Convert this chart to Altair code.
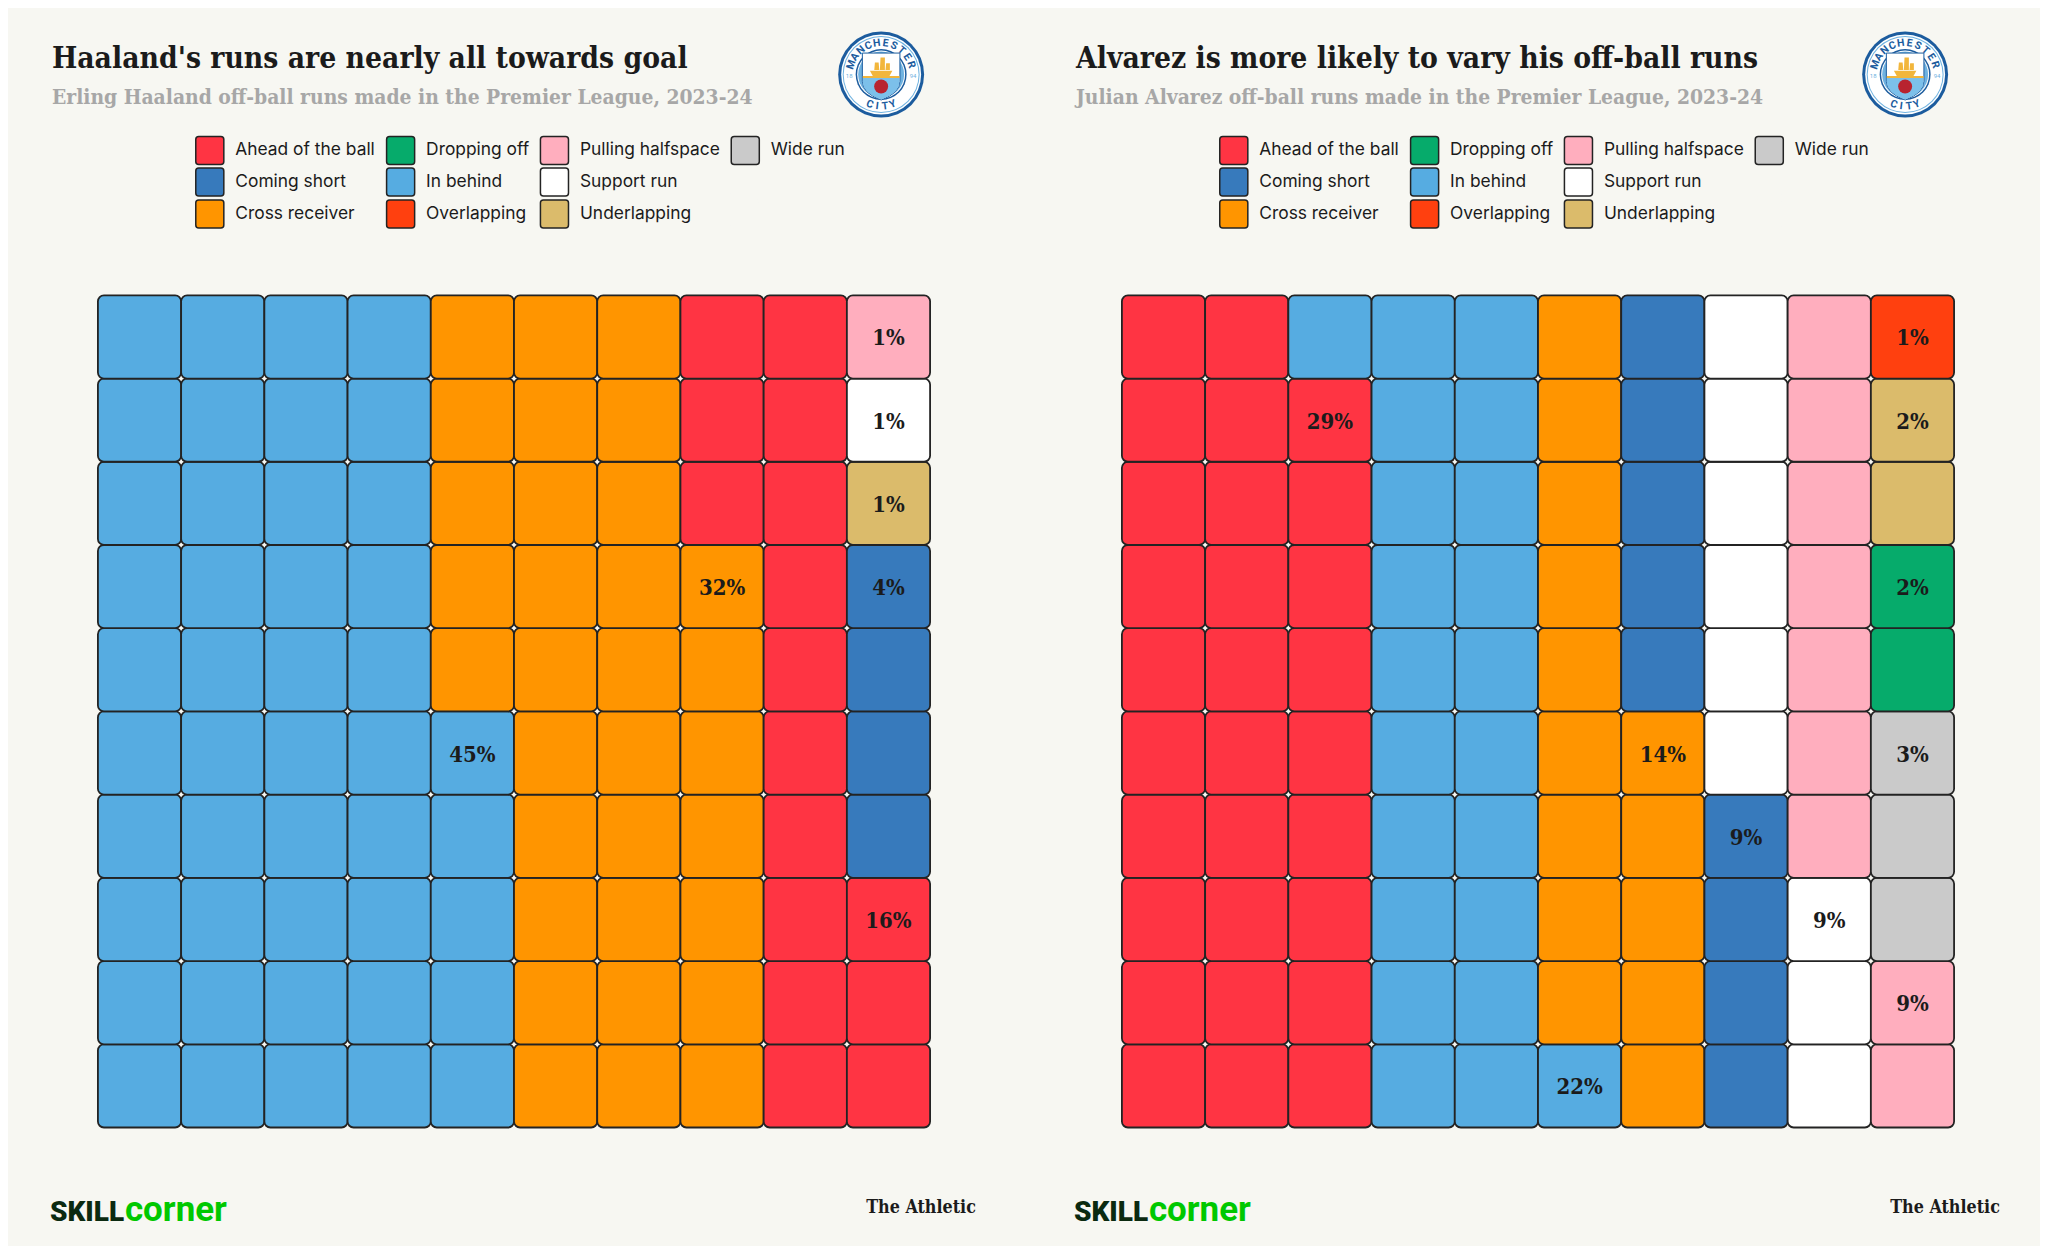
import math
import altair as alt
import pandas as pd

BG = "#f7f7f2"
INK = "#1b1b1b"
SLAB = "DejaVu Serif Condensed"
SANS = "Inter"
OUTLINE = "#232323"

# two empty entries fill out the 4-by-3 legend grid so that it reads column by column
legend_order = ["Ahead of the ball", "Coming short", "Cross receiver",
                "Dropping off", "In behind", "Overlapping",
                "Pulling halfspace", "Support run", "Underlapping",
                "Wide run", " ", "  "]
legend_colors = ["#ff3443", "#377abc", "#ff9500",
                 "#06ab6b", "#56ace1", "#ff400f",
                 "#ffaebe", "#ffffff", "#dbbb6b",
                 "#cacaca", BG, BG]
legend_strokes = [OUTLINE] * 10 + [BG, BG]

haaland_types = ["In behind", "Cross receiver", "Ahead of the ball", "Coming short",
                 "Underlapping", "Support run", "Pulling halfspace"]
haaland_counts = [45, 32, 16, 4, 1, 1, 1]
alvarez_types = ["Ahead of the ball", "In behind", "Cross receiver", "Coming short",
                 "Support run", "Pulling halfspace", "Wide run", "Dropping off",
                 "Underlapping", "Overlapping"]
alvarez_counts = [29, 22, 14, 9, 9, 9, 3, 2, 2, 1]

ROUND_SQ = "M-0.85,-1.08H0.85Q1.08,-1.08,1.08,-0.85V0.85Q1.08,1.08,0.85,1.08H-0.85Q-1.08,1.08,-1.08,0.85V-0.85Q-1.08,-1.08,-0.85,-1.08Z"
SHIELD = "M-0.8,-1H0.8V0.2Q0.8,0.7,0,1Q-0.8,0.7,-0.8,0.2Z"
SHIELD_LOW = "M-0.8,0.06H0.8V0.2Q0.8,0.7,0,1Q-0.8,0.7,-0.8,0.2Z"
BAND = "M-0.8,-0.02H0.8V0.06H-0.8Z"
SHIP = "M-0.9,0.25H0.9L0.6,0.8H-0.6ZM-0.55,0.2L-0.5,-0.4L-0.2,-0.4L-0.15,0.2ZM-0.1,0.2L-0.05,-0.8L0.3,-0.8L0.3,0.2ZM0.35,0.2L0.4,-0.35L0.7,-0.35L0.7,0.2Z"


def cells(types, counts):
    rows, labels = [], []
    n = 0
    for t, c in zip(types, counts):
        for _ in range(c):
            col, row = n // 10, n % 10
            rows.append({"type": t, "x0": col, "x1": col + 1, "y0": row, "y1": row + 1})
            n += 1
        labels.append({"label": f"{c}%", "cx": col + 0.5, "cy": row + 0.5})
    return pd.DataFrame(rows), pd.DataFrame(labels)


def logo_layers(cx, cy):
    def shape(path, side, fill, dx=0, dy=0, stroke=None, sw=0):
        kw = dict(shape=path, filled=True, fill=fill, size=side * side, opacity=1)
        if stroke:
            kw.update(stroke=stroke, strokeWidth=sw)
        return alt.Chart(pd.DataFrame({"k": [0]})).mark_point(**kw).encode(
            x=alt.value(cx + dx), y=alt.value(cy + dy))

    def dot(r, fill, dy=0):
        return shape("circle", 2 * r, fill, dy=dy)

    letters = []
    word = "MANCHESTER"
    for i, ch in enumerate(word):
        a = -72 + i * 144 / (len(word) - 1)
        rad = math.radians(a)
        letters.append({"t": ch, "px": cx + 31.5 * math.sin(rad), "py": cy - 31.5 * math.cos(rad), "a": a % 360})
    word = "CITY"
    for i, ch in enumerate(word):
        a = -21 + i * 42 / (len(word) - 1)
        rad = math.radians(a)
        letters.append({"t": ch, "px": cx + 32 * math.sin(rad), "py": cy + 32 * math.cos(rad), "a": (-a) % 360})
    letter_layer = alt.Chart(pd.DataFrame(letters)).mark_text(
        font="Roboto", fontWeight="bold", fontSize=10.5, color="#1c5c9e", baseline="middle"
    ).encode(x=alt.X("px:Q", scale=None), y=alt.Y("py:Q", scale=None),
             angle=alt.Angle("a:Q", scale=None), text="t:N")
    small = alt.Chart(pd.DataFrame([{"t": "18", "px": cx - 32, "py": cy + 1},
                                    {"t": "94", "px": cx + 32, "py": cy + 1}])).mark_text(
        font="Roboto", fontSize=6, color="#6fb2e0", baseline="middle"
    ).encode(x=alt.X("px:Q", scale=None), y=alt.Y("py:Q", scale=None), text="t:N")
    return [
        dot(43, "#1c5c9e"), dot(40, "#ffffff"), dot(38.5, "#6fb2e0"), dot(37.5, "#ffffff"),
        dot(25.5, "#1c5c9e"), dot(24, "#ffffff"), dot(23, "#6fb2e0"),
        shape(SHIELD, 47, "#ffffff", dy=2, stroke="#1c5c9e", sw=1),
        shape(SHIELD_LOW, 46, "#7cc0ea", dy=2),
        shape(BAND, 46, "#f2b63c", dy=2),
        shape(SHIP, 25, "#f2b63c", dy=-7),
        dot(7, "#b8232f", dy=12),
        letter_layer, small,
    ]


def panel(title, sub, types, counts):
    cell_df, label_df = cells(types, counts)
    x_scale = alt.Scale(domain=[0, 10], nice=False, zero=False)
    y_scale = alt.Scale(domain=[0, 10], nice=False, zero=False)
    legend = alt.Legend(
        orient="none", legendX=98, legendY=-159.5, columns=4, title=None,
        symbolType=ROUND_SQ, symbolSize=676,
        symbolStrokeWidth=1.5, symbolOpacity=1, labelFont=SANS,
        labelFontSize=17.4, labelColor=INK, labelOffset=11.5, rowPadding=-4,
        columnPadding=7, padding=0, labelLimit=200)
    tiles = alt.Chart(cell_df).mark_rect(
        cornerRadius=6, strokeWidth=1.8
    ).encode(
        x=alt.X("x0:Q", scale=x_scale, axis=None), x2="x1:Q",
        y=alt.Y("y0:Q", scale=y_scale, axis=None), y2="y1:Q",
        color=alt.Color("type:N", scale=alt.Scale(domain=legend_order, range=legend_colors), legend=legend),
        stroke=alt.Stroke("type:N", scale=alt.Scale(domain=legend_order, range=legend_strokes), legend=legend),
    )
    pct = alt.Chart(label_df).mark_text(
        font=SLAB, fontWeight="bold", fontSize=22, color=INK, baseline="middle", dy=1.5
    ).encode(x=alt.X("cx:Q", scale=x_scale), y=alt.Y("cy:Q", scale=y_scale), text="label:N")

    def txt(s, x, y, font, size, color, weight="bold"):
        return alt.Chart(pd.DataFrame({"t": [s]})).mark_text(
            font=font, fontWeight=weight, fontSize=size, color=color, align="left", baseline="alphabetic"
        ).encode(x=alt.value(x), y=alt.value(y), text="t:N")

    layers = [tiles, pct,
              txt(title, -46, -228, SLAB, 29.8, INK),
              txt(sub, -46, -192, SLAB, 20.9, "#a7a7a7"),
              txt("SKILL", -48, 927, "Roboto", 28, "#0b2a10", 900),
              txt("corner", 27, 927, "Roboto", 35, "#00c800", "bold"),
              txt("The Athletic", 769, 919, SLAB, 17.8, INK),
              ] + logo_layers(784, -221)
    return alt.layer(*layers).resolve_scale(color="independent", stroke="independent").properties(width=833, height=833)


left = panel("Haaland's runs are nearly all towards goal",
             "Erling Haaland off-ball runs made in the Premier League, 2023-24",
             haaland_types, haaland_counts)
right = panel("Alvarez is more likely to vary his off-ball runs",
              "Julian Alvarez off-ball runs made in the Premier League, 2023-24",
              alvarez_types, alvarez_counts)

chart = alt.hconcat(left, right, spacing=192, bounds="flush").resolve_scale(
    color="independent", stroke="independent"
).properties(
    background=BG,
    padding={"left": 42, "top": 23, "right": 40, "bottom": 17},
).configure_view(stroke=None)

chart.save("out.html", embed_options={"renderer": "svg", "actions": False})
